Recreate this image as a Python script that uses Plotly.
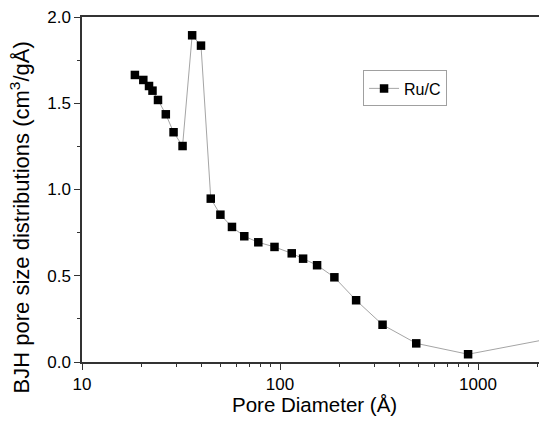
import plotly.graph_objects as go

# Data (pore diameter in Å, BJH distribution)
pore_diameter = [18.5, 20.4, 21.8, 22.7, 24.2, 26.5, 29.0, 32.2, 36.0, 39.9,
                 44.7, 50.0, 57.2, 66.0, 77.7, 93.8, 114.6, 130.8, 153.9, 188.2,
                 242.3, 329.5, 487.6, 891.0, 3000.0]
bjh_values = [1.664, 1.635, 1.600, 1.573, 1.519, 1.436, 1.332, 1.252, 1.894, 1.834,
              0.947, 0.854, 0.783, 0.729, 0.694, 0.667, 0.630, 0.599, 0.561, 0.491,
              0.358, 0.216, 0.108, 0.045, 0.160]
series_name = "Ru/C"
y_tick_vals = [0.0, 0.5, 1.0, 1.5, 2.0]
x_tick_vals = [10, 100, 1000]

FONT = "Arial, 'Liberation Sans', sans-serif"

fig = go.Figure()
fig.add_trace(go.Scatter(
    x=pore_diameter, y=bjh_values, name=series_name,
    mode="lines+markers",
    line=dict(color="#a5a5a5", width=1),
    marker=dict(symbol="square", size=8.5, color="black", line=dict(width=0)),
))

fig.update_layout(
    width=539, height=421,
    margin=dict(l=82, r=0, t=17, b=59),
    paper_bgcolor="white", plot_bgcolor="white",
    font=dict(family=FONT, size=17, color="black"),
    showlegend=True,
    legend=dict(x=0.615, y=0.845, xanchor="left", yanchor="top",
                bordercolor="#a0a0a0", borderwidth=1,
                font=dict(family=FONT, size=16, color="black"),
                itemwidth=30, tracegroupgap=0,
                bgcolor="white"),
)

fig.update_xaxes(
    type="log", range=[1, 3.308],
    tickvals=x_tick_vals, ticktext=[str(v) for v in x_tick_vals],
    ticks="outside", ticklen=6, tickwidth=1.3, tickcolor="#333",
    showline=True, linecolor="#333", linewidth=1.5, mirror=True,
    showgrid=False, zeroline=False, ticklabeloverflow="allow",
    minor=dict(ticks="outside", ticklen=3, tickwidth=1.2, tickcolor="#333",
               dtick="D1", showgrid=False),
    tickfont=dict(family=FONT, size=17, color="black"),
)
fig.update_yaxes(
    range=[0, 2.0],
    tickvals=y_tick_vals, tickformat=".1f",
    ticks="outside", ticklen=6, tickwidth=1.3, tickcolor="#333",
    showline=True, linecolor="#333", linewidth=1.5, mirror=False,
    showgrid=False, zeroline=False, ticklabeloverflow="allow",
    minor=dict(ticks="outside", ticklen=3, tickwidth=1.2, tickcolor="#333",
               dtick=0.25, showgrid=False),
    tickfont=dict(family=FONT, size=17, color="black"),
)

fig.add_annotation(text="Pore Diameter (Å)", xref="paper", yref="paper",
                   x=0.509, y=-0.122, xanchor="center", yanchor="middle",
                   showarrow=False, font=dict(family=FONT, size=20.5, color="black"))
fig.add_annotation(text="BJH pore size distributions (cm<sup>3</sup>/gÅ)",
                   xref="paper", yref="paper", textangle=-90,
                   x=-0.135, y=0.42, xanchor="center", yanchor="middle",
                   showarrow=False, font=dict(family=FONT, size=22, color="black"))

fig.write_html(
    "out.html",
    config={"displayModeBar": False},
    post_script="document.body.style.margin='0';document.body.style.overflow='hidden';",
)
